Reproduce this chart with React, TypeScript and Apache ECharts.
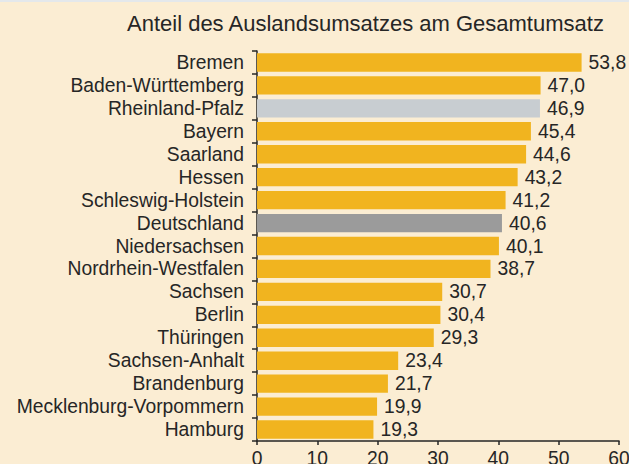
import React, { useEffect, useRef } from "react";
import * as echarts from "echarts";

const categories = [
  "Bremen",
  "Baden-Württemberg",
  "Rheinland-Pfalz",
  "Bayern",
  "Saarland",
  "Hessen",
  "Schleswig-Holstein",
  "Deutschland",
  "Niedersachsen",
  "Nordrhein-Westfalen",
  "Sachsen",
  "Berlin",
  "Thüringen",
  "Sachsen-Anhalt",
  "Brandenburg",
  "Mecklenburg-Vorpommern",
  "Hamburg",
];
const values = [53.8, 47.0, 46.9, 45.4, 44.6, 43.2, 41.2, 40.6, 40.1, 38.7, 30.7, 30.4, 29.3, 23.4, 21.7, 19.9, 19.3];
const xTicks = { min: 0, max: 60, interval: 10 };
const titleText = "Anteil des Auslandsumsatzes am Gesamtumsatz";

const GOLD = "#F1B41F";
const LIGHT_GRAY = "#C8CDD1";
const DARK_GRAY = "#9B9B9B";
const TEXT = "#262626";
const FONT = "'Liberation Sans', Arial, Helvetica, sans-serif";
const FS = 19.3;

export default function App() {
  const ref = useRef<HTMLDivElement>(null);
  useEffect(() => {
    document.body.style.margin = "0";
    if (!ref.current) return;
    const chart = echarts.init(ref.current, undefined, { renderer: "svg" });
    const colorFor = (name: string) =>
      name === "Rheinland-Pfalz" ? LIGHT_GRAY : name === "Deutschland" ? DARK_GRAY : GOLD;
    chart.setOption({
      animation: false,
      backgroundColor: "#FBEDD3",
      textStyle: { fontFamily: FONT },
      graphic: [
        { type: "rect", shape: { x: 0, y: 0, width: 629, height: 2 }, style: { fill: "#E4E8EB" } },
      ],
      title: {
        text: titleText,
        left: 127,
        top: 12,
        padding: 0,
        textStyle: { fontFamily: FONT, fontSize: 22, fontWeight: "normal", color: TEXT },
      },
      grid: {
        left: 257,
        right: 10,
        top: 51,
        bottom: 23,
        containLabel: false,
        outerBoundsMode: "none",
      },
      xAxis: {
        type: "value",
        min: xTicks.min,
        max: xTicks.max,
        interval: xTicks.interval,
        axisLine: { show: true, lineStyle: { color: TEXT, width: 1.5 } },
        axisTick: { show: true, length: 4, lineStyle: { color: TEXT, width: 1.5 } },
        axisLabel: { color: TEXT, fontSize: FS, margin: 8, fontFamily: FONT, hideOverlap: false },
        splitLine: { show: false },
      },
      yAxis: {
        type: "category",
        data: categories,
        inverse: true,
        axisLine: { show: true, lineStyle: { color: TEXT, width: 1.5 } },
        axisTick: { show: true, length: 5, lineStyle: { color: TEXT, width: 1.5 } },
        axisLabel: { color: TEXT, fontSize: FS, margin: 13, fontFamily: FONT, interval: 0 },
      },
      series: [
        {
          type: "bar",
          data: values.map((v, i) => ({ value: v, itemStyle: { color: colorFor(categories[i]) } })),
          barCategoryGap: "20%",
          label: {
            show: true,
            position: "right",
            distance: 7,
            color: TEXT,
            fontSize: FS,
            fontFamily: FONT,
            formatter: (p: any) => Number(p.value).toFixed(1).replace(".", ","),
          },
        },
      ],
    });
    return () => chart.dispose();
  }, []);
  return <div ref={ref} style={{ width: 629, height: 464 }} />;
}
